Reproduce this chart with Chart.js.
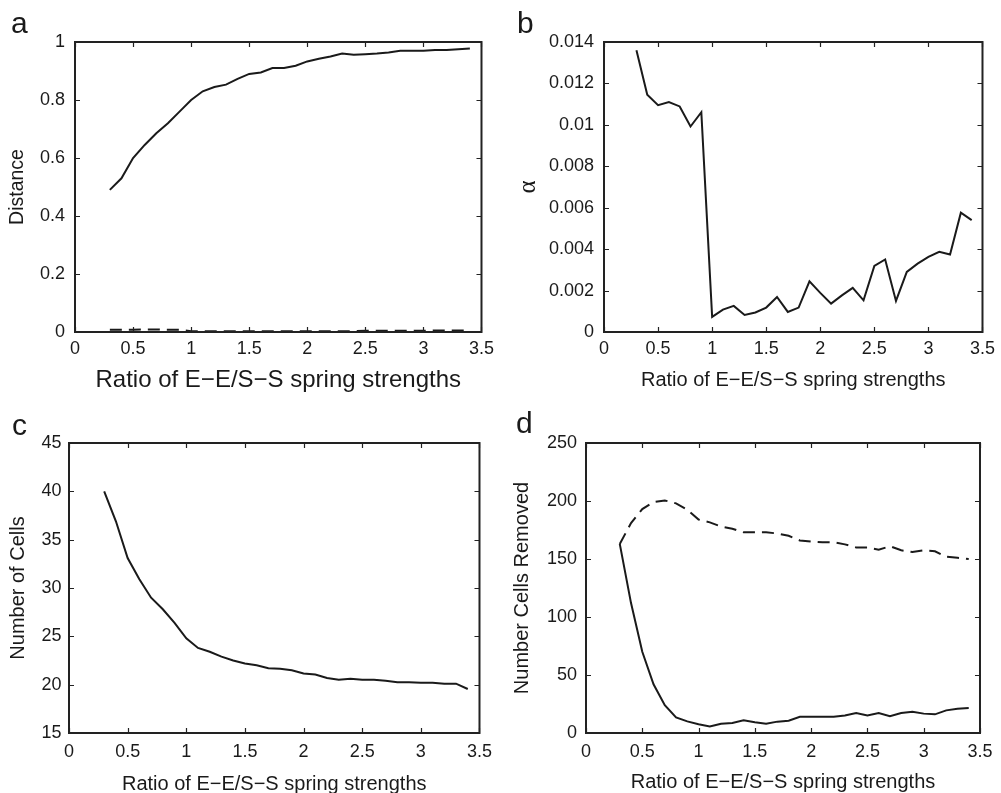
<!DOCTYPE html>
<html>
<head>
<meta charset="utf-8">
<script src="https://cdn.jsdelivr.net/npm/chart.js@4.4.1/dist/chart.umd.min.js"></script>
<style>
  html, body { margin: 0; padding: 0; background: #fff; }
  body { width: 1001px; height: 793px; position: relative; overflow: hidden; font-family: "Liberation Sans", Arial, sans-serif; }
  canvas { position: absolute; }
  .lbl { position: absolute; font-family: "Liberation Sans", Arial, sans-serif; font-size: 30px; line-height: 30px; color: #1a1a1a; }
</style>
</head>
<body>
<canvas id="ca" width="500" height="400" style="left:0px;top:0px;width:500px;height:400px"></canvas>
<canvas id="cb" width="501" height="400" style="left:500px;top:0px;width:501px;height:400px"></canvas>
<canvas id="cc" width="500" height="400" style="left:0px;top:393px;width:500px;height:400px"></canvas>
<canvas id="cd" width="501" height="400" style="left:500px;top:393px;width:501px;height:400px"></canvas>
<div class="lbl" style="left:11px;top:8px">a</div>
<div class="lbl" style="left:517px;top:8px">b</div>
<div class="lbl" style="left:12px;top:410px">c</div>
<div class="lbl" style="left:516px;top:408px">d</div>
<script>
// ---------- DATA ----------
const ratio = [0.3,0.4,0.5,0.6,0.7,0.8,0.9,1.0,1.1,1.2,1.3,1.4,1.5,1.6,1.7,1.8,1.9,2.0,2.1,2.2,2.3,2.4,2.5,2.6,2.7,2.8,2.9,3.0,3.1,3.2,3.3,3.4];

const distanceSolid = [0.49,0.53,0.60,0.645,0.685,0.72,0.76,0.80,0.83,0.845,0.853,0.873,0.89,0.895,0.91,0.91,0.918,0.933,0.942,0.95,0.96,0.956,0.958,0.96,0.964,0.97,0.97,0.97,0.972,0.972,0.975,0.978];
const distanceDashed = [0.008,0.008,0.008,0.009,0.009,0.008,0.008,0.003,0.003,0.003,0.003,0.003,0.003,0.003,0.003,0.003,0.003,0.003,0.003,0.003,0.003,0.003,0.004,0.004,0.004,0.004,0.004,0.004,0.005,0.005,0.005,0.005];

const alphaVals = [0.0136,0.01145,0.01095,0.0111,0.01089,0.00992,0.01061,0.00073,0.00108,0.00126,0.00082,0.00094,0.00118,0.00169,0.00097,0.00118,0.00245,0.00189,0.00137,0.00177,0.00213,0.00153,0.00319,0.0035,0.0015,0.0029,0.0033,0.00363,0.00387,0.00374,0.00576,0.0054];

const numCells = [40.0,36.9,33.1,30.9,29.0,27.8,26.4,24.8,23.8,23.4,22.9,22.5,22.2,22.0,21.7,21.65,21.5,21.15,21.05,20.7,20.5,20.6,20.5,20.5,20.4,20.25,20.25,20.2,20.2,20.1,20.1,19.55];

const removedSolid = [163,112,70,42,24,13.5,10,7.5,5.7,8,8.6,11,9.2,8,9.8,10.6,14,14,14,14,15,17.2,15.2,17.2,14.4,17.2,18.4,16.7,16.1,19.5,21,21.5];
const removedDashed = [163,181,193,199,200.5,198,192.5,184,181.6,178,176,173,173,173,172,170,166,165,164.4,164.4,162.6,160,160,158,161,157.5,156,157.5,156.6,152,151,150];

const xTickVals = [0,0.5,1,1.5,2,2.5,3,3.5];
const xTickLabels = ["0","0.5","1","1.5","2","2.5","3","3.5"];
const aYTickVals = [0,0.2,0.4,0.6,0.8,1];
const aYTickLabels = ["0","0.2","0.4","0.6","0.8","1"];
const bYTickVals = [0,0.002,0.004,0.006,0.008,0.01,0.012,0.014];
const bYTickLabels = ["0","0.002","0.004","0.006","0.008","0.01","0.012","0.014"];
const cYTickVals = [15,20,25,30,35,40,45];
const cYTickLabels = ["15","20","25","30","35","40","45"];
const dYTickVals = [0,50,100,150,200,250];
const dYTickLabels = ["0","50","100","150","200","250"];

const xTitle = "Ratio of E\u2212E/S\u2212S spring strengths";

// ---------- HELPERS ----------
const FONT = "'Liberation Sans', Arial, Helvetica, sans-serif";
const INK = "#1a1a1a";
const AXIS = "#222222";

const boxTicks = {
  id: 'boxTicks',
  afterDatasetsDraw(chart) {
    const {ctx, chartArea: a, scales} = chart;
    const L = 5;
    ctx.save();
    ctx.strokeStyle = AXIS;
    ctx.lineWidth = 1.2;
    ctx.beginPath();
    scales.x.ticks.forEach(t => {
      const px = Math.round(scales.x.getPixelForValue(t.value)) + 0.5;
      ctx.moveTo(px, a.bottom); ctx.lineTo(px, a.bottom - L);
      ctx.moveTo(px, a.top); ctx.lineTo(px, a.top + L);
    });
    scales.y.ticks.forEach(t => {
      const py = Math.round(scales.y.getPixelForValue(t.value)) + 0.5;
      ctx.moveTo(a.left, py); ctx.lineTo(a.left + L, py);
      ctx.moveTo(a.right, py); ctx.lineTo(a.right - L, py);
    });
    ctx.stroke();
    ctx.lineWidth = 2;
    ctx.strokeRect(a.left, a.top, a.right - a.left, a.bottom - a.top);
    ctx.restore();
  }
};

function pairs(ys) { return ratio.map((x, i) => ({x: x, y: ys[i]})); }

function makeChart(id, cfg) {
  const datasets = cfg.series.map(s => ({
    data: pairs(s.data),
    borderColor: INK,
    borderWidth: 2,
    borderDash: s.dash || [],
    pointRadius: 0,
    tension: 0,
    fill: false,
    clip: false
  }));
  return new Chart(document.getElementById(id), {
    type: 'line',
    data: {datasets},
    plugins: [boxTicks],
    options: {
      responsive: false,
      animation: false,
      devicePixelRatio: 1,
      layout: {padding: {left: 0, top: cfg.padTop, right: cfg.padRight, bottom: 0}},
      plugins: {legend: {display: false}, tooltip: {enabled: false}},
      scales: {
        x: {
          type: 'linear', min: 0, max: 3.5,
          afterBuildTicks: s => { s.ticks = xTickVals.map(v => ({value: v})); },
          afterFit: s => { s.height = cfg.xHeight; },
          grid: {display: false, drawTicks: false},
          border: {display: false},
          ticks: {
            padding: cfg.xTickPad, color: INK, maxRotation: 0, autoSkip: false,
            font: {family: FONT, size: 18, lineHeight: 1.2},
            callback: (v, i) => xTickLabels[i]
          },
          title: {
            display: true, text: xTitle, color: INK,
            font: {family: FONT, size: cfg.xTitleSize, lineHeight: 1},
            padding: {top: 0, bottom: cfg.xTitlePad}
          }
        },
        y: {
          type: 'linear', min: cfg.yMin, max: cfg.yMax,
          afterBuildTicks: s => { s.ticks = cfg.yTicks.map(v => ({value: v})); },
          afterFit: s => { s.width = cfg.yWidth; },
          grid: {display: false, drawTicks: false},
          border: {display: false},
          ticks: {
            padding: cfg.yTickPad, color: INK, autoSkip: false,
            font: {family: FONT, size: 18, lineHeight: 1.2},
            callback: (v, i) => cfg.yLabels[i]
          },
          title: {
            display: true, text: cfg.yTitle, color: INK,
            font: {family: cfg.yTitleFont || FONT, size: cfg.yTitleSize, lineHeight: 1},
            padding: {top: cfg.yTitlePad, bottom: 0}
          }
        }
      }
    }
  });
}

makeChart('ca', {
  series: [{data: distanceSolid}, {data: distanceDashed, dash: [12, 7]}],
  padTop: 42, padRight: 18.5, xHeight: 68, yWidth: 75,
  xTickPad: 6, yTickPad: 10, xTitleSize: 24, xTitlePad: 8,
  yMin: 0, yMax: 1, yTicks: aYTickVals, yLabels: aYTickLabels,
  yTitle: "Distance", yTitleSize: 19.5, yTitlePad: 7.75
});

makeChart('cb', {
  series: [{data: alphaVals}],
  padTop: 42, padRight: 14, xHeight: 68, yWidth: 104,
  xTickPad: 6, yTickPad: 10, xTitleSize: 20, xTitlePad: 10,
  yMin: 0, yMax: 0.014, yTicks: bYTickVals, yLabels: bYTickLabels,
  yTitle: "\u03B1", yTitleSize: 25, yTitleFont: "'Liberation Serif', 'Times New Roman', serif", yTitlePad: 15.5
});

makeChart('cc', {
  series: [{data: numCells}],
  padTop: 50, padRight: 19, xHeight: 60, yWidth: 69,
  xTickPad: 8, yTickPad: 7.5, xTitleSize: 20, xTitlePad: -1,
  yMin: 15, yMax: 45, yTicks: cYTickVals, yLabels: cYTickLabels,
  yTitle: "Number of Cells", yTitleSize: 20, yTitlePad: 8.8
});

makeChart('cd', {
  series: [{data: removedSolid}, {data: removedDashed, dash: [12, 7]}],
  padTop: 50, padRight: 15, xHeight: 60, yWidth: 86,
  xTickPad: 8.5, yTickPad: 9, xTitleSize: 20, xTitlePad: 1,
  yMin: 0, yMax: 250, yTicks: dYTickVals, yLabels: dYTickLabels,
  yTitle: "Number Cells Removed", yTitleSize: 20, yTitlePad: 12
});
</script>
</body>
</html>
